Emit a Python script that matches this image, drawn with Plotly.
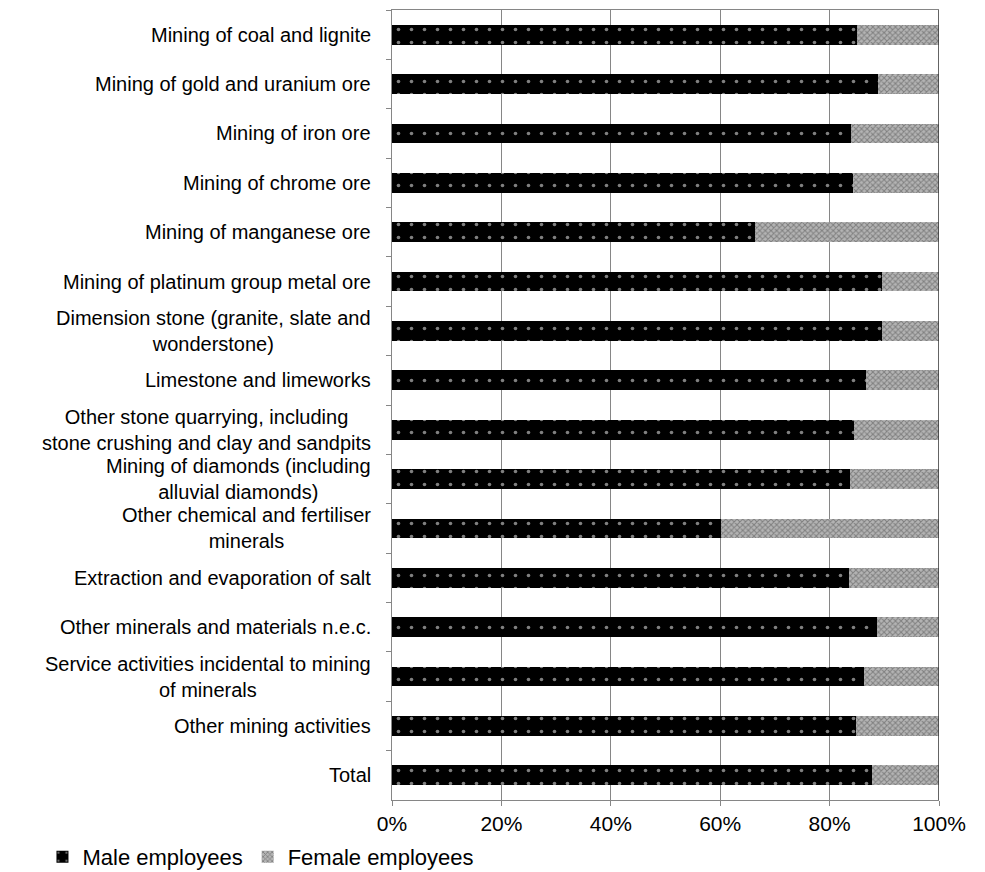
import plotly.graph_objects as go

# Mining sub-sectors, top to bottom
categories = [
    "Mining of coal and lignite",
    "Mining of gold and uranium ore",
    "Mining of iron ore",
    "Mining of chrome ore",
    "Mining of manganese ore",
    "Mining of platinum group metal ore",
    "Dimension stone (granite, slate and<br>wonderstone)",
    "Limestone and limeworks",
    "Other stone quarrying, including<br>stone crushing and clay and sandpits",
    "Mining of diamonds (including<br>alluvial diamonds)",
    "Other chemical and fertiliser<br>minerals",
    "Extraction and evaporation of salt",
    "Other minerals and materials n.e.c.",
    "Service activities incidental to mining<br>of minerals",
    "Other mining activities",
    "Total",
]

# Share of employees (%)
male_pct = [85.0, 88.9, 84.0, 84.2, 66.4, 89.6, 89.6, 86.6,
            84.5, 83.7, 60.1, 83.5, 88.6, 86.2, 84.8, 87.7]
female_pct = [15.0, 11.1, 16.0, 15.8, 33.6, 10.4, 10.4, 13.4,
              15.5, 16.3, 39.9, 16.5, 11.4, 13.8, 15.2, 12.3]

x_ticks = [0, 20, 40, 60, 80, 100]
x_tick_text = ["0%", "20%", "40%", "60%", "80%", "100%"]

FONT = "Liberation Sans, Arial, sans-serif"
FS = 20
GRID = "#868686"

fig = go.Figure()
fig.add_trace(go.Bar(
    name="Male employees",
    y=categories, x=male_pct, orientation="h",
    marker=dict(
        color="black",
        line=dict(width=0),
        pattern=dict(shape=".", fgcolor="white", bgcolor="black",
                     size=13, solidity=0.06),
    ),
))
fig.add_trace(go.Bar(
    name="Female employees",
    y=categories, x=female_pct, orientation="h",
    marker=dict(
        color="#9a9a9a",
        line=dict(width=0),
        pattern=dict(shape="x", fgcolor="#4a4a4a", bgcolor="#b4b4b4",
                     size=4, solidity=0.45),
    ),
))

# Category labels: right-aligned block, lines centred within it
for cat in categories:
    fig.add_annotation(
        x=0, xref="paper", y=cat, yref="y",
        text=cat, showarrow=False,
        xanchor="right", yanchor="middle", align="center",
        xshift=-19,
        font=dict(family=FONT, size=FS, color="black"),
    )

# Darker right edge of the plot area
fig.add_shape(type="line", xref="x", yref="paper",
              x0=100, x1=100, y0=0, y1=1,
              line=dict(color="#303030", width=1.5))

fig.update_layout(
    barmode="stack",
    bargap=0.6,
    width=985, height=872,
    margin=dict(l=392, r=46, t=10, b=72, autoexpand=False),
    paper_bgcolor="white",
    plot_bgcolor="white",
    font=dict(family=FONT, size=FS, color="black"),
    showlegend=True,
    legend=dict(
        orientation="h",
        traceorder="normal",
        x=-0.639, xanchor="left",
        y=-0.072, yanchor="middle",
        font=dict(family=FONT, size=22, color="black"),
        itemwidth=30,
        tracegroupgap=0,
        bgcolor="rgba(0,0,0,0)",
    ),
    xaxis=dict(
        range=[0, 100],
        tickvals=x_ticks, ticktext=x_tick_text,
        showgrid=True, gridcolor=GRID, gridwidth=1,
        showline=True, linecolor=GRID, linewidth=1,
        mirror=True,
        ticks="outside", ticklen=5, tickcolor=GRID,
        ticklabelstandoff=0,
        automargin=False,
        zeroline=False,
        tickfont=dict(family=FONT, size=FS + 1, color="black"),
    ),
    yaxis=dict(
        type="category",
        categoryorder="array", categoryarray=categories,
        autorange="reversed",
        automargin=False,
        showticklabels=False,
        showline=True, linecolor=GRID, linewidth=1,
        ticks="outside", ticklen=5, tickcolor=GRID,
        tickson="boundaries",
        showgrid=False,
    ),
)

fig.write_html("out.html")
